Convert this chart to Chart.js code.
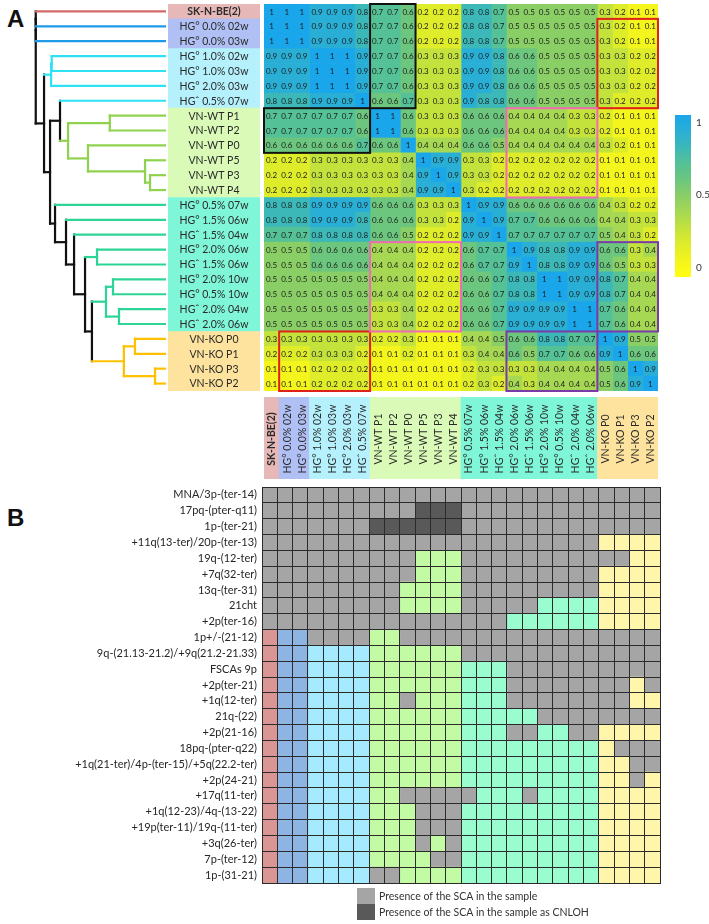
<!DOCTYPE html>
<html>
<head>
<meta charset="utf-8">
<script src="https://cdn.jsdelivr.net/npm/chart.js@4.4.1/dist/chart.umd.min.js"></script>
<style>
body { margin: 0; background: #fff; width: 709px; height: 924px; position: relative; overflow: hidden; }
canvas { position: absolute; }
.panel { position: absolute; font: bold 24px "Liberation Sans", Arial, sans-serif; line-height: 24px; color: #111; }
</style>
</head>
<body>
<div class="panel" style="left:7px;top:7px">A</div>
<div class="panel" style="left:7px;top:506px">B</div>
<canvas id="dendro" width="166" height="387" style="left:0;top:4px"></canvas>
<canvas id="rowLabels" width="92" height="387" style="left:168px;top:4px"></canvas>
<canvas id="heat" width="398" height="391" style="left:262px;top:2px"></canvas>
<canvas id="colorbar" width="37" height="184" style="left:672px;top:104px"></canvas>
<canvas id="colLabels" width="394" height="82" style="left:264px;top:397px"></canvas>
<canvas id="sca" width="662" height="440" style="left:0;top:486px"></canvas>
<script>
Chart.defaults.font.family = 'Lato, "Noto Sans", sans-serif'
Chart.defaults.animation = false

// ---- data ----
const sampleNames = ['SK-N-BE(2)', 'HG° 0.0% 02w', 'HG° 0.0% 03w', 'HG° 1.0% 02w', 'HG° 1.0% 03w',
  'HG° 2.0% 03w', 'HGˆ 0.5% 07w', 'VN-WT P1', 'VN-WT P2', 'VN-WT P0', 'VN-WT P5', 'VN-WT P3',
  'VN-WT P4', 'HG° 0.5% 07w', 'HG° 1.5% 06w', 'HGˆ 1.5% 04w', 'HG° 2.0% 06w', 'HGˆ 1.5% 06w',
  'HG° 2.0% 10w', 'HG° 0.5% 10w', 'HGˆ 2.0% 04w', 'HGˆ 2.0% 06w', 'VN-KO P0', 'VN-KO P1',
  'VN-KO P3', 'VN-KO P2']
const sampleGroup = [0, 1, 1, 2, 2, 2, 2, 3, 3, 3, 3, 3, 3, 4, 4, 4, 4, 4, 4, 4, 4, 4, 5, 5, 5, 5]

const corrRows = [
  [1,1,1,.9,.9,.9,.8,.7,.7,.6,.2,.2,.2,.8,.8,.7,.5,.5,.5,.5,.5,.5,.3,.2,.1,.1],
  [1,1,1,.9,.9,.9,.8,.7,.7,.6,.2,.2,.2,.8,.8,.7,.5,.5,.5,.5,.5,.5,.3,.2,.1,.1],
  [1,1,1,.9,.9,.9,.8,.7,.7,.6,.2,.2,.2,.8,.8,.7,.5,.5,.5,.5,.5,.5,.3,.2,.1,.1],
  [.9,.9,.9,1,1,1,.9,.7,.7,.6,.3,.3,.3,.9,.9,.8,.6,.6,.5,.5,.5,.5,.3,.3,.2,.2],
  [.9,.9,.9,1,1,1,.9,.7,.7,.6,.3,.3,.3,.9,.9,.8,.6,.6,.5,.5,.5,.5,.3,.3,.2,.2],
  [.9,.9,.9,1,1,1,.9,.7,.7,.6,.3,.3,.3,.9,.9,.8,.6,.6,.5,.5,.5,.5,.3,.3,.2,.2],
  [.8,.8,.8,.9,.9,.9,1,.6,.6,.7,.3,.3,.3,.9,.8,.8,.6,.6,.5,.5,.5,.5,.3,.2,.2,.2],
  [.7,.7,.7,.7,.7,.7,.6,1,1,.6,.3,.3,.3,.6,.6,.6,.4,.4,.4,.4,.3,.3,.2,.1,.1,.1],
  [.7,.7,.7,.7,.7,.7,.6,1,1,.6,.3,.3,.3,.6,.6,.6,.4,.4,.4,.4,.3,.3,.2,.1,.1,.1],
  [.6,.6,.6,.6,.6,.6,.7,.6,.6,1,.4,.4,.4,.6,.6,.5,.4,.4,.4,.4,.4,.4,.3,.2,.1,.1],
  [.2,.2,.2,.3,.3,.3,.3,.3,.3,.4,1,.9,.9,.3,.3,.2,.2,.2,.2,.2,.2,.2,.1,.1,.1,.1],
  [.2,.2,.2,.3,.3,.3,.3,.3,.3,.4,.9,1,.9,.3,.3,.2,.2,.2,.2,.2,.2,.2,.1,.1,.1,.1],
  [.2,.2,.2,.3,.3,.3,.3,.3,.3,.4,.9,.9,1,.3,.2,.2,.2,.2,.2,.2,.2,.2,.1,.1,.1,.1],
  [.8,.8,.8,.9,.9,.9,.9,.6,.6,.6,.3,.3,.3,1,.9,.9,.6,.6,.6,.6,.6,.6,.4,.3,.2,.2],
  [.8,.8,.8,.9,.9,.9,.8,.6,.6,.6,.3,.3,.2,.9,1,.9,.7,.7,.6,.6,.6,.6,.4,.4,.3,.3],
  [.7,.7,.7,.8,.8,.8,.8,.6,.6,.5,.2,.2,.2,.9,.9,1,.7,.7,.7,.7,.7,.7,.5,.4,.3,.2],
  [.5,.5,.5,.6,.6,.6,.6,.4,.4,.4,.2,.2,.2,.6,.7,.7,1,.9,.8,.8,.9,.9,.6,.6,.3,.4],
  [.5,.5,.5,.6,.6,.6,.6,.4,.4,.4,.2,.2,.2,.6,.7,.7,.9,1,.8,.8,.9,.9,.6,.5,.3,.3],
  [.5,.5,.5,.5,.5,.5,.5,.4,.4,.4,.2,.2,.2,.6,.6,.7,.8,.8,1,1,.9,.9,.8,.7,.4,.4],
  [.5,.5,.5,.5,.5,.5,.5,.4,.4,.4,.2,.2,.2,.6,.6,.7,.8,.8,1,1,.9,.9,.8,.7,.4,.4],
  [.5,.5,.5,.5,.5,.5,.5,.3,.3,.4,.2,.2,.2,.6,.6,.7,.9,.9,.9,.9,1,1,.7,.6,.4,.4],
  [.5,.5,.5,.5,.5,.5,.5,.3,.3,.4,.2,.2,.2,.6,.6,.7,.9,.9,.9,.9,1,1,.7,.6,.4,.4],
  [.3,.3,.3,.3,.3,.3,.3,.2,.2,.3,.1,.1,.1,.4,.4,.5,.6,.6,.8,.8,.7,.7,1,.9,.5,.5],
  [.2,.2,.2,.3,.3,.3,.2,.1,.1,.2,.1,.1,.1,.3,.4,.4,.6,.5,.7,.7,.6,.6,.9,1,.6,.6],
  [.1,.1,.1,.2,.2,.2,.2,.1,.1,.1,.1,.1,.1,.2,.3,.3,.3,.3,.4,.4,.4,.4,.5,.6,1,.9],
  [.1,.1,.1,.2,.2,.2,.2,.1,.1,.1,.1,.1,.1,.2,.3,.2,.4,.3,.4,.4,.4,.4,.5,.6,.9,1]
]

// framed blocks on the correlation map: [firstRow, lastRow, firstCol, lastCol, colour]
const corrBlocks = [
  [0, 6, 7, 9, '#111'], [7, 9, 0, 6, '#111'],
  [1, 6, 22, 25, '#e0201b'], [22, 25, 1, 6, '#e0201b'],
  [7, 12, 16, 21, '#f06ab4'], [16, 21, 7, 12, '#f06ab4'],
  [16, 21, 22, 25, '#7a3aa8'], [22, 25, 16, 21, '#7a3aa8']
]

// linkage: [childA, childB, height]; new nodes get ids 26, 27, ...
const dendroMerges = [
  [3, 4, 0.895], [26, 5, 0.90],
  [11, 12, 0.125], [10, 28, 0.164], [9, 29, 0.611], [7, 8, 0.44], [31, 30, 0.767], [6, 32, 0.83],
  [20, 21, 0.368], [18, 19, 0.415], [35, 34, 0.47], [22, 23, 0.243], [24, 25, 0.086], [37, 38, 0.33],
  [36, 39, 0.58], [16, 17, 0.54], [41, 40, 0.634], [15, 42, 0.72], [14, 43, 0.783], [13, 44, 0.869],
  [33, 45, 0.908], [27, 46, 0.955], [0, 1, 1.02], [48, 2, 1.02], [49, 47, 1.02]
]

const colorbarTicks = [0, 0.5, 1]

const scaLabels = ['MNA/3p-(ter-14)', '17pq-(pter-q11)', '1p-(ter-21)', '+11q(13-ter)/20p-(ter-13)',
  '19q-(12-ter)', '+7q(32-ter)', '13q-(ter-31)', '21cht', '+2p(ter-16)', '1p+/-(21-12)',
  '9q-(21.13-21.2)/+9q(21.2-21.33)', 'FSCAs 9p', '+2p(ter-21)', '+1q(12-ter)', '21q-(22)',
  '+2p(21-16)', '18pq-(pter-q22)', '+1q(21-ter)/4p-(ter-15)/+5q(22.2-ter)', '+2p(24-21)',
  '+17q(11-ter)', '+1q(12-23)/4q-(13-22)', '+19p(ter-11)/19q-(11-ter)', '+3q(26-ter)',
  '7p-(ter-12)', '1p-(31-21)']
// 0 = absent, 1 = SCA present, 2 = present as CNLOH (one digit per sample)
const scaCalls = [
  '11111111111111111111111111',
  '11111111112221111111111111',
  '11111112222221111111111111',
  '11111111111111111111110000',
  '11111111110001111111111100',
  '11111111110001111111110000',
  '11111111100001111111110000',
  '11111111100001111100000000',
  '11111111111111110000000000',
  '00011110011111111111111111',
  '00000000000001111111111111',
  '00000000000000001111111111',
  '00000000000000001111111101',
  '00000000010000001111111100',
  '00000000000000000011111111',
  '00000000000000001100110000',
  '00000000000000000000000111',
  '00000000000000000000000011',
  '00000000000000000000000010',
  '00000000011111000100000000',
  '00000000001110000000000000',
  '00000000001110000000000000',
  '00000000001010000000000000',
  '00000000000110000000000000',
  '00000001100000000000000000'
]
const scaLegend = ['Presence of the SCA in the sample', 'Presence of the SCA in the sample as CNLOH']

// ---- styles ----
const labelColors = ['#e6b8b7', '#b0c0f4', '#b5f1fd', '#dafab8', '#80f6d8', '#fde39d']
const lineColors = ['#d06a68', '#1e9ae6', '#2ee2f4', '#8fd24f', '#2cd596', '#ffc000']
const absentColors = ['#d99694', '#8db4e2', '#a5eafe', '#c3fba5', '#99fdd0', '#fff6ab']
const callColors = [null, '#a5a5a5', '#595959']

const cmapStops = [
  [0, [255, 255, 16]], [0.1, [243, 245, 28]], [0.2, [223, 236, 42]], [0.3, [196, 226, 60]],
  [0.4, [166, 216, 83]], [0.5, [138, 206, 102]], [0.6, [108, 198, 126]], [0.7, [85, 193, 150]],
  [0.8, [60, 184, 184]], [0.9, [41, 175, 213]], [1, [26, 166, 234]]
]
function cmap(v){
  v = Math.max(0, Math.min(1, v))
  for(let i = 1; i < cmapStops.length; i++){
    const [v1, c1] = cmapStops[i], [v0, c0] = cmapStops[i-1]
    if(v <= v1 + 1e-9){
      const t = (v - v0) / (v1 - v0)
      return 'rgb(' + c0.map((c, k) => Math.round(c + (c1[k] - c) * t)).join(',') + ')'
    }
  }
}

const noLegend = { legend: { display: false }, tooltip: { enabled: false } }

// ---- dendrogram ----
var nodeY = sampleNames.map((_, i) => i)
var nodeH = sampleNames.map(() => 0)
var nodeC = sampleGroup.map(g => lineColors[g])
var segs = []
dendroMerges.forEach(([a, b, h]) => {
  const col = nodeC[a] === nodeC[b] ? nodeC[a] : '#111'
  segs.push({ c: nodeC[a], pts: [{ x: nodeH[a], y: nodeY[a] }, { x: h, y: nodeY[a] }] })
  segs.push({ c: nodeC[b], pts: [{ x: nodeH[b], y: nodeY[b] }, { x: h, y: nodeY[b] }] })
  segs.push({ c: col, pts: [{ x: h, y: nodeY[a] }, { x: h, y: nodeY[b] }] })
  nodeY.push((nodeY[a] + nodeY[b]) / 2)
  nodeH.push(h)
  nodeC.push(col)
})

new Chart(document.getElementById('dendro'), {
  type: 'scatter',
  data: {
    datasets: segs.map(s => ({ data: s.pts, showLine: true, borderColor: s.c, borderWidth: 2.2,
      pointRadius: 0, borderCapStyle: 'square', clip: false }))
  },
  options: {
    responsive: false,
    plugins: noLegend,
    scales: {
      x: { type: 'linear', reverse: true, min: 0, max: 1.3, display: false },
      y: { type: 'linear', reverse: true, min: -0.5, max: sampleNames.length - 0.5, display: false }
    }
  }
})

// ---- row labels (panel A) ----
const rowLabelText = {
  id: 'rowLabelText',
  afterDatasetsDraw(chart){
    const ctx = chart.ctx
    const meta = chart.getDatasetMeta(0)
    ctx.save()
    ctx.fillStyle = '#2a2a2a'
    ctx.textAlign = 'center'
    ctx.textBaseline = 'middle'
    meta.data.forEach((el, i) => {
      ctx.font = (i === 0 ? 'bold ' : '') + '10.5px Lato'
      ctx.fillText(sampleNames[i], (el.x + el.base) / 2, el.y + 0.5)
    })
    ctx.restore()
  }
}
new Chart(document.getElementById('rowLabels'), {
  type: 'bar',
  data: {
    labels: sampleNames,
    datasets: [{ data: sampleNames.map(() => 1), backgroundColor: sampleGroup.map(g => labelColors[g]),
      barPercentage: 1, categoryPercentage: 1 }]
  },
  options: {
    responsive: false, indexAxis: 'y',
    plugins: noLegend,
    scales: { x: { min: 0, max: 1, display: false }, y: { display: false } }
  },
  plugins: [rowLabelText]
})

// ---- correlation heatmap ----
const heatText = {
  id: 'heatText',
  afterDatasetsDraw(chart){
    const ctx = chart.ctx
    ctx.save()
    ctx.fillStyle = '#1c1c1c'
    ctx.font = '8px Lato'
    ctx.textAlign = 'center'
    ctx.textBaseline = 'middle'
    chart.data.datasets.forEach((ds, c) => {
      chart.getDatasetMeta(c).data.forEach((el, r) => {
        ctx.fillText(String(corrRows[r][c]), (el.x + el.base) / 2, el.y + 0.5)
      })
    })
    const xs = chart.scales.x, ys = chart.scales.y
    const band = (chart.chartArea.bottom - chart.chartArea.top) / sampleNames.length
    ctx.lineWidth = 2
    corrBlocks.forEach(([r0, r1, c0, c1, col]) => {
      const x0 = xs.getPixelForValue(c0), x1 = xs.getPixelForValue(c1 + 1)
      const y0 = ys.getPixelForValue(r0) - band / 2, y1 = ys.getPixelForValue(r1) + band / 2
      ctx.strokeStyle = col
      ctx.strokeRect(x0, y0, x1 - x0, y1 - y0)
    })
    ctx.restore()
  }
}
new Chart(document.getElementById('heat'), {
  type: 'bar',
  data: {
    labels: sampleNames,
    datasets: sampleNames.map((_, c) => ({
      data: corrRows.map(() => 1),
      backgroundColor: corrRows.map(row => cmap(row[c])),
      barPercentage: 1, categoryPercentage: 1
    }))
  },
  options: {
    responsive: false, indexAxis: 'y',
    layout: { padding: 2 },
    plugins: noLegend,
    scales: {
      x: { stacked: true, min: 0, max: sampleNames.length, display: false },
      y: { stacked: true, display: false }
    }
  },
  plugins: [heatText]
})

// ---- colour bar ----
new Chart(document.getElementById('colorbar'), {
  type: 'bar',
  data: {
    labels: [''],
    datasets: [{
      data: [[-0.065, 1.052]],
      barPercentage: 1, categoryPercentage: 1,
      backgroundColor(context){
        const a = context.chart.chartArea
        if(!a) return null
        const g = context.chart.ctx.createLinearGradient(0, a.bottom, 0, a.top)
        for(let i = 0; i <= 20; i++) g.addColorStop(i / 20, cmap(i / 20))
        return g
      }
    }]
  },
  options: {
    responsive: false,
    layout: { padding: { left: 3, top: 6, bottom: 7 } },
    plugins: noLegend,
    scales: {
      x: { display: false },
      y: {
        position: 'right', min: -0.065, max: 1.052,
        grid: { display: false, drawTicks: false }, border: { display: false },
        ticks: { font: { size: 10 }, color: '#333', padding: 5, callback: v => String(v) },
        afterBuildTicks: axis => { axis.ticks = colorbarTicks.map(v => ({ value: v })) },
        afterFit: axis => { axis.width = 18 }
      }
    }
  }
})

// ---- column labels (panel A) ----
const colLabelText = {
  id: 'colLabelText',
  afterDatasetsDraw(chart){
    const ctx = chart.ctx
    const a = chart.chartArea
    ctx.save()
    ctx.fillStyle = '#2a2a2a'
    ctx.textAlign = 'center'
    ctx.textBaseline = 'middle'
    chart.getDatasetMeta(0).data.forEach((el, i) => {
      ctx.save()
      ctx.translate(el.x + 0.5, (a.top + a.bottom) / 2 + 1)
      ctx.rotate(-Math.PI / 2)
      ctx.font = (i === 0 ? 'bold ' : '') + '10.5px Lato'
      ctx.fillText(sampleNames[i], 0, 0)
      ctx.restore()
    })
    ctx.restore()
  }
}
new Chart(document.getElementById('colLabels'), {
  type: 'bar',
  data: {
    labels: sampleNames,
    datasets: [{ data: sampleNames.map(() => 1), backgroundColor: sampleGroup.map(g => labelColors[g]),
      barPercentage: 1, categoryPercentage: 1 }]
  },
  options: {
    responsive: false,
    plugins: noLegend,
    scales: { x: { display: false }, y: { min: 0, max: 1, display: false } }
  },
  plugins: [colLabelText]
})

// ---- panel B: SCA grid ----
const scaLegendDraw = {
  id: 'scaLegendDraw',
  afterDraw(chart){
    const ctx = chart.ctx
    const a = chart.chartArea
    ctx.save()
    ctx.font = '10.5px Lato'
    ctx.textBaseline = 'middle'
    scaLegend.forEach((txt, i) => {
      const y = a.bottom + 5 + i * 16
      ctx.fillStyle = callColors[i + 1]
      ctx.fillRect(a.left + 95, y, 18, 16)
      ctx.fillStyle = '#333'
      ctx.fillText(txt, a.left + 117, y + 8.5)
    })
    ctx.restore()
  }
}
new Chart(document.getElementById('sca'), {
  type: 'bar',
  data: {
    labels: scaLabels,
    datasets: sampleNames.map((_, c) => ({
      data: scaCalls.map(() => 1),
      backgroundColor: scaCalls.map(s => +s[c] ? callColors[+s[c]] : absentColors[sampleGroup[c]]),
      barPercentage: 1, categoryPercentage: 1
    }))
  },
  options: {
    responsive: false, indexAxis: 'y',
    layout: { padding: { bottom: 43, right: 2, top: 1 } },
    plugins: noLegend,
    scales: {
      x: {
        stacked: true, min: 0, max: sampleNames.length,
        ticks: { display: false, stepSize: 1 },
        grid: { color: '#2b2b2b', lineWidth: 1, drawTicks: false, z: 1 },
        border: { color: '#2b2b2b', z: 1 },
        afterFit: axis => { axis.height = 0; axis.paddingLeft = 0; axis.paddingRight = 0 }
      },
      y: {
        stacked: true,
        grid: { offset: true, color: '#2b2b2b', lineWidth: 1, drawTicks: false, z: 1 },
        border: { color: '#2b2b2b', z: 1 },
        ticks: { font: { size: 11 }, color: '#262626', padding: 5, autoSkip: false },
        afterFit: axis => { axis.width = 262; axis.paddingTop = 0; axis.paddingBottom = 0 }
      }
    }
  },
  plugins: [scaLegendDraw]
})
</script>
</body>
</html>
